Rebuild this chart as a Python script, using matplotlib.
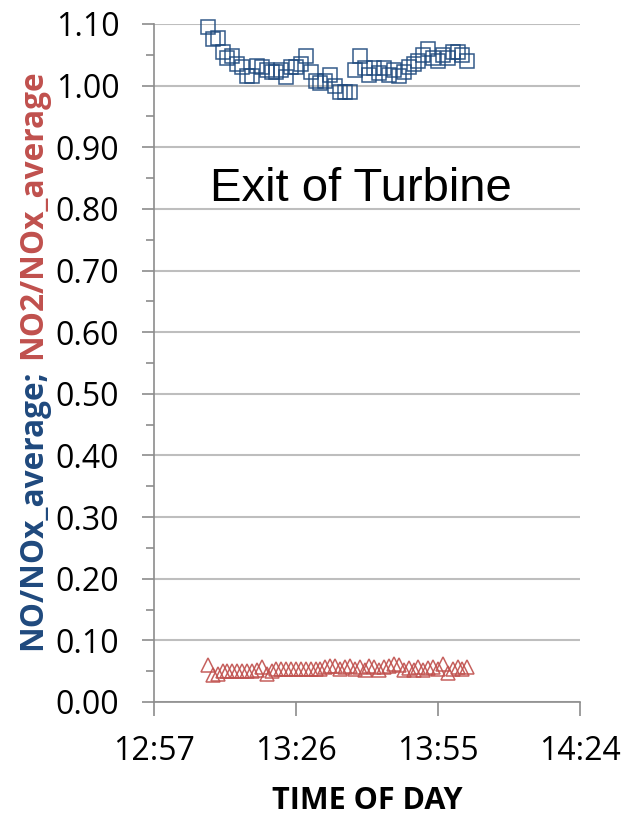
import matplotlib
matplotlib.use("Agg")
import matplotlib.pyplot as plt
from matplotlib.ticker import MultipleLocator, FuncFormatter

# minutes after 12:57, one reading per minute (13:08 .. 14:01)
minutes = list(range(11, 65))

no_ratio = [1.095, 1.075, 1.078, 1.055, 1.045, 1.048, 1.035, 1.030, 1.015, 1.015,
            1.032, 1.030, 1.025, 1.022, 1.022, 1.025, 1.014, 1.030, 1.030, 1.035,
            1.048, 1.022, 1.008, 1.005, 1.008, 1.018, 1.000, 0.990, 0.990, 0.990,
            1.025, 1.048, 1.028, 1.018, 1.028, 1.020, 1.028, 1.018, 1.025, 1.015,
            1.022, 1.030, 1.035, 1.040, 1.050, 1.060, 1.045, 1.040, 1.050, 1.045,
            1.055, 1.055, 1.050, 1.040]

no2_ratio = [0.060, 0.044, 0.046, 0.050, 0.050, 0.050, 0.050, 0.050, 0.050, 0.050,
             0.052, 0.056, 0.045, 0.050, 0.054, 0.054, 0.054, 0.054, 0.054, 0.054,
             0.054, 0.054, 0.054, 0.054, 0.057, 0.058, 0.058, 0.053, 0.057, 0.058,
             0.053, 0.056, 0.052, 0.058, 0.056, 0.052, 0.057, 0.058, 0.062, 0.060,
             0.052, 0.055, 0.052, 0.056, 0.052, 0.055, 0.056, 0.053, 0.062, 0.047,
             0.053, 0.057, 0.053, 0.056]

x_ticks = [0, 29, 58, 87]
x_labels = ["12:57", "13:26", "13:55", "14:24"]

blue = "#1F497D"
red = "#C0504D"
calibri_like = "Open Sans"

fig = plt.figure(figsize=(6.44, 8.15), dpi=100)
ax = fig.add_axes([154/644, 1-702/815, (580-154)/644, (702-24)/815])

ax.plot(minutes, no_ratio, ls="none", marker="s", ms=10, mfc="none",
        mec=blue, mew=1.1, alpha=0.9, clip_on=False)
ax.plot(minutes, no2_ratio, ls="none", marker="^", ms=10, mfc="none",
        mec=red, mew=1.1, alpha=0.9, clip_on=False)

ax.set_xlim(0, 87)
ax.set_ylim(0, 1.10)
ax.set_xticks(x_ticks)
ax.set_xticklabels(x_labels)
ax.yaxis.set_major_locator(MultipleLocator(0.10))
ax.yaxis.set_minor_locator(MultipleLocator(0.05))
ax.yaxis.set_major_formatter(FuncFormatter(lambda v, p: "%.2f" % v))

ax.grid(axis="y", color="#BEBEBE", lw=1.5)
ax.set_axisbelow(True)
for s in ["top", "right"]:
    ax.spines[s].set_visible(False)
for s in ["left", "bottom"]:
    ax.spines[s].set_color("#8C8C8C")
    ax.spines[s].set_linewidth(1.2)

ax.tick_params(axis="y", which="major", length=9, width=1.2, color="#8C8C8C",
               labelsize=23, pad=16)
ax.tick_params(axis="y", which="minor", length=6, width=1.2, color="#8C8C8C")
ax.tick_params(axis="x", which="major", length=10, width=1.2, color="#8C8C8C",
               labelsize=23, pad=14)
for lab in ax.get_xticklabels() + ax.get_yticklabels():
    lab.set_family(calibri_like)

ax.set_xlabel("TIME OF DAY", fontsize=22, fontweight="bold",
              family=calibri_like, labelpad=13)

ax.text(0.486, 0.757, "Exit of Turbine", transform=ax.transAxes, ha="center",
        va="center", fontsize=34, family="Liberation Sans")

# two-coloured y label, blue part first then red part stacked above it
lab_x = 33 / 644
t1 = fig.text(lab_x, 1-650/815, "NO/NOx_average;", rotation=90,
              rotation_mode="anchor", ha="left", va="center", fontsize=22.8,
              fontweight="bold", color=blue, family=calibri_like)
fig.canvas.draw()
bb = t1.get_window_extent(fig.canvas.get_renderer())
fig.text(lab_x, (bb.y1 + 10) / fig.bbox.height, "NO2/NOx_average", rotation=90,
         rotation_mode="anchor", ha="left", va="center", fontsize=22.8,
         fontweight="bold", color=red, family=calibri_like)

plt.savefig("out.png", dpi=100)
